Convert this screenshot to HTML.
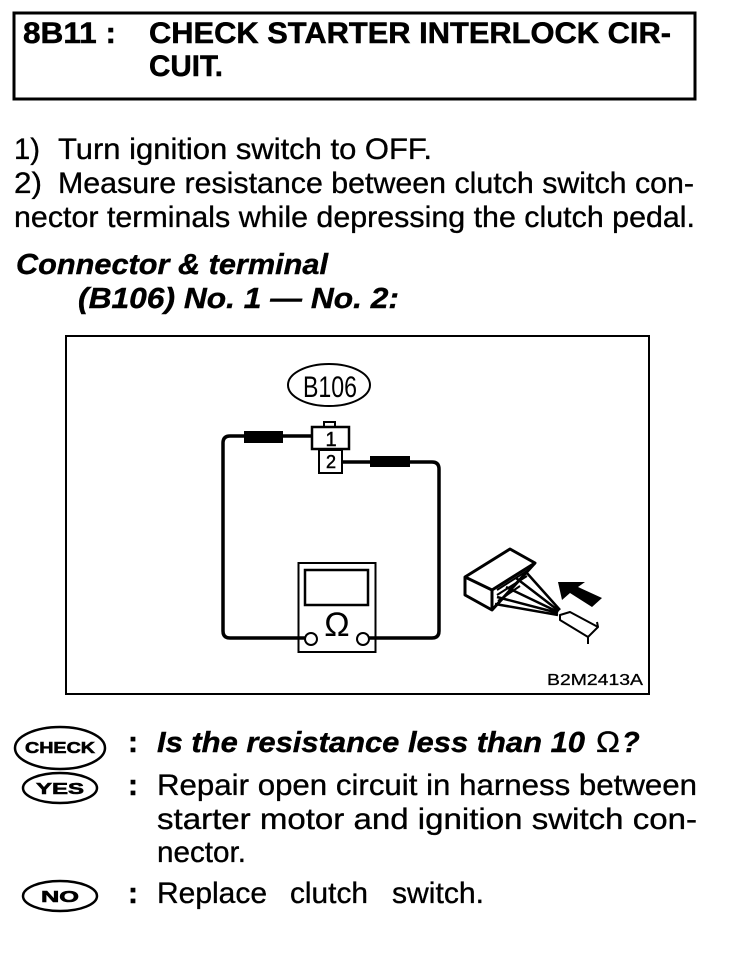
<!DOCTYPE html>
<html><head><meta charset="utf-8"><style>
html,body{margin:0;padding:0;background:#fff}
svg{display:block}
text{font-family:"Liberation Sans",sans-serif;fill:#000}
.t{font-size:30px;font-weight:bold;stroke:#000;stroke-width:.5px}
.b{font-size:30px;stroke:#000;stroke-width:.35px}
.i{font-size:29px;font-weight:bold;font-style:italic;stroke:#000;stroke-width:.4px}
.l{font-weight:bold;stroke:#000;stroke-width:.6px}
</style></head><body>
<svg width="736" height="956" viewBox="0 0 736 956" xmlns="http://www.w3.org/2000/svg">
<rect x="14" y="13" width="681" height="86" fill="none" stroke="#000" stroke-width="3"/>
<text class="t" x="23" y="43" textLength="93" lengthAdjust="spacingAndGlyphs">8B11 :</text>
<text class="t" x="149" y="43" textLength="522" lengthAdjust="spacingAndGlyphs">CHECK STARTER INTERLOCK CIR-</text>
<text class="t" x="149" y="76" textLength="74" lengthAdjust="spacingAndGlyphs">CUIT.</text>

<text class="b" x="14" y="159" textLength="26" lengthAdjust="spacingAndGlyphs">1)</text>
<text class="b" x="58" y="159" textLength="374" lengthAdjust="spacingAndGlyphs">Turn ignition switch to OFF.</text>
<text class="b" x="14" y="193" textLength="28" lengthAdjust="spacingAndGlyphs">2)</text>
<text class="b" x="58" y="193" textLength="636" lengthAdjust="spacingAndGlyphs">Measure resistance between clutch switch con-</text>
<text class="b" x="14" y="227" textLength="681" lengthAdjust="spacingAndGlyphs">nector terminals while depressing the clutch pedal.</text>

<text class="i" x="16" y="274" textLength="312" lengthAdjust="spacingAndGlyphs">Connector &amp; terminal</text>
<text class="i" x="78" y="308" textLength="321" lengthAdjust="spacingAndGlyphs">(B106) No. 1 — No. 2:</text>

<rect x="66" y="336" width="583" height="358" fill="none" stroke="#000" stroke-width="2"/>

<ellipse cx="329" cy="385" rx="41" ry="21" fill="none" stroke="#000" stroke-width="2"/>
<text x="330" y="397" font-size="30" text-anchor="middle" textLength="54" lengthAdjust="spacingAndGlyphs">B106</text>

<path d="M324 426V422H335V426" fill="none" stroke="#000" stroke-width="2"/>
<rect x="312" y="427" width="37" height="22" fill="#fff" stroke="#000" stroke-width="2.5"/>
<rect x="319" y="450" width="23" height="23" fill="#fff" stroke="#000" stroke-width="2"/>
<text x="331" y="446" font-size="20" text-anchor="middle" stroke="#000" stroke-width=".5">1</text>
<text x="331" y="468" font-size="18" text-anchor="middle" stroke="#000" stroke-width=".5">2</text>

<path d="M312 436H230Q223 436 223 443V631Q223 638 230 638H306" fill="none" stroke="#000" stroke-width="3.5"/>
<path d="M342 462H432Q439 462 439 469V631Q439 638 432 638H369" fill="none" stroke="#000" stroke-width="3.5"/>
<rect x="244" y="431" width="39" height="12" fill="#000"/>
<rect x="370" y="456" width="40" height="11" fill="#000"/>

<rect x="298.500" y="563" width="77" height="89" fill="none" stroke="#000" stroke-width="2"/>
<rect x="305" y="570" width="63" height="35" fill="#fff" stroke="#000" stroke-width="2.500"/>
<text x="337" y="636" font-size="34" text-anchor="middle">Ω</text>
<circle cx="311" cy="639" r="6" fill="#fff" stroke="#000" stroke-width="2"/>
<circle cx="363" cy="639" r="6" fill="#fff" stroke="#000" stroke-width="2"/>

<g fill="none" stroke="#000" stroke-linejoin="round">
<path d="M465 577L510 549L535 563L492 610L465 595Z" fill="#fff" stroke-width="3"/>
<path d="M465 577L492 590V610M492 590L535 563" stroke-width="3"/>
<path d="M497 590L530 569" stroke-width="2"/>
<path d="M497 595L527 576M498 601L520 586" stroke-width="2"/>
<path d="M526 572L560 610M516 578L559 611M506 587L558 612M497 597L558 613M495 604L558 615" stroke-width="2.500"/>
<path d="M560 615L570 612L598 627L588 637L560 620Z" fill="#fff" stroke-width="2"/>
<path d="M588 637V644M598 627L597 622" stroke-width="2"/>
</g>
<path d="M558 582L585 582L578 587L602 598L592 607L570 593L562 600Z" fill="#000"/>
<text x="547" y="685" font-size="16" textLength="96" lengthAdjust="spacingAndGlyphs" stroke="#000" stroke-width=".3">B2M2413A</text>

<ellipse cx="60" cy="748" rx="45" ry="21" fill="none" stroke="#000" stroke-width="2.500"/>
<text class="l" x="60" y="753" font-size="16" text-anchor="middle" textLength="70" lengthAdjust="spacingAndGlyphs">CHECK</text>
<ellipse cx="60" cy="788" rx="37" ry="15" fill="none" stroke="#000" stroke-width="2.500"/>
<text class="l" x="60" y="794" font-size="16" text-anchor="middle" textLength="48" lengthAdjust="spacingAndGlyphs">YES</text>
<ellipse cx="60" cy="896" rx="37" ry="15" fill="none" stroke="#000" stroke-width="2.500"/>
<text class="l" x="60" y="902" font-size="16" text-anchor="middle" textLength="38" lengthAdjust="spacingAndGlyphs">NO</text>

<text class="t" x="128" y="752">:</text>
<text class="t" x="128" y="795">:</text>
<text class="t" x="128" y="903">:</text>

<text class="i" x="157" y="752" textLength="428" lengthAdjust="spacingAndGlyphs">Is the resistance less than 10</text>
<text class="b" x="596" y="752" font-size="28" textLength="24" lengthAdjust="spacingAndGlyphs">Ω</text>
<text class="i" x="622" y="752">?</text>
<text class="b" x="157" y="795" textLength="540" lengthAdjust="spacingAndGlyphs">Repair open circuit in harness between</text>
<text class="b" x="157" y="829" textLength="540" lengthAdjust="spacingAndGlyphs">starter motor and ignition switch con-</text>
<text class="b" x="157" y="862" textLength="89" lengthAdjust="spacingAndGlyphs">nector.</text>
<text class="b" x="157" y="903" textLength="110" lengthAdjust="spacingAndGlyphs">Replace</text>
<text class="b" x="290" y="903" textLength="78" lengthAdjust="spacingAndGlyphs">clutch</text>
<text class="b" x="392" y="903" textLength="92" lengthAdjust="spacingAndGlyphs">switch.</text>
</svg>
</body></html>
